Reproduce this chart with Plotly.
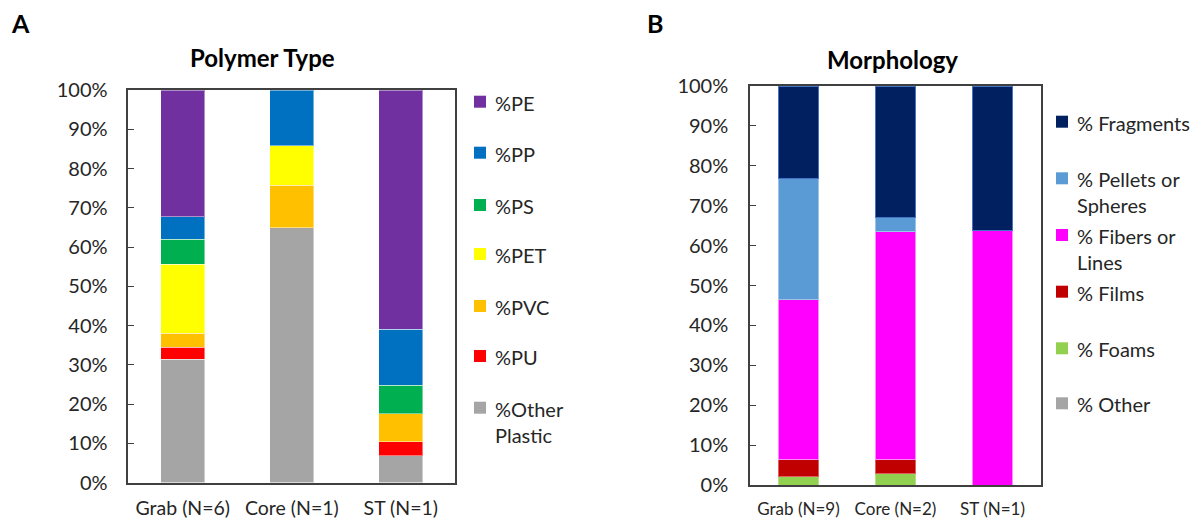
import plotly.graph_objects as go

W, H = 1198, 521

# ---------------- Data ----------------
categories_a = ["Grab (N=6)", "Core (N=1)", "ST (N=1)"]
polymer_names = ["%PE", "%PP", "%PS", "%PET", "%PVC", "%PU", "%Other<br>Plastic"]
pct_pe = [32.3, 0, 61.0]
pct_pp = [5.7, 14.2, 14.2]
pct_ps = [6.4, 0, 7.3]
pct_pet = [17.6, 10.1, 0]
pct_pvc = [3.5, 10.8, 7.1]
pct_pu = [3.1, 0, 3.6]
pct_other_plastic = [31.4, 64.9, 6.8]
polymer_colors = ["#7030A0", "#0070C0", "#00B050", "#FFFF00", "#FFC000", "#FF0000", "#A5A5A5"]

categories_b = ["Grab (N=9)", "Core (N=2)", "ST (N=1)"]
morph_names = ["% Fragments", "% Pellets or<br>Spheres", "% Fibers or<br>Lines", "% Films", "% Foams", "% Other"]
pct_fragments = [23.3, 32.9, 36.2]
pct_pellets = [30.3, 3.6, 0]
pct_fibers = [40.1, 57.1, 63.8]
pct_films = [4.2, 3.6, 0]
pct_foams = [2.1, 2.8, 0]
pct_other = [0, 0, 0]
morph_colors = ["#002060", "#5B9BD5", "#FF00FF", "#C00000", "#92D050", "#A5A5A5"]
morph_edges = ["#4472C4", "#9DC3E6", "#FF8CFF", "#E06060", "#B8E08A", "#C8C8C8"]

polymer_series = [pct_pe, pct_pp, pct_ps, pct_pet, pct_pvc, pct_pu, pct_other_plastic]
morph_series = [pct_fragments, pct_pellets, pct_fibers, pct_films, pct_foams, pct_other]

FONT = "Lato, 'Open Sans', sans-serif"
TXT = "#262626"

def px(x):
    return x / W

def py(y):
    return 1 - y / H

fig = go.Figure()

# Stack bottom -> top (reverse of legend order)
for name, vals, col in reversed(list(zip(polymer_names, polymer_series, polymer_colors))):
    fig.add_trace(go.Bar(
        x=categories_a, y=[v / 100 if v else None for v in vals],
        name=name.replace("<br>", " "), marker=dict(color=col, line=dict(color="rgba(255,255,255,0.45)", width=1)),
        xaxis="x", yaxis="y", showlegend=False))

for name, vals, col, edge in reversed(list(zip(morph_names, morph_series, morph_colors, morph_edges))):
    fig.add_trace(go.Bar(
        x=categories_b, y=[v / 100 if v else None for v in vals],
        name=name.replace("<br>", " "), marker=dict(color=col, line=dict(color=edge, width=1)),
        xaxis="x2", yaxis="y2", showlegend=False))

axis_common = dict(showline=True, mirror=True, linecolor="#404040", linewidth=1.5,
                   showgrid=False, zeroline=False, fixedrange=True, automargin=False)
yaxis_common = dict(axis_common, range=[0, 1], dtick=0.1, tickformat=".0%",
                    ticks="inside", ticklen=6, tickcolor="#404040", tickwidth=1,
                    tickfont=dict(family=FONT, size=20, color=TXT))

fig.update_layout(
    width=W, height=H, autosize=False,
    margin=dict(l=0, r=0, t=0, b=0, pad=0, autoexpand=False),
    paper_bgcolor="white", plot_bgcolor="white",
    barmode="stack", bargap=0.595,
    showlegend=False,
    xaxis=dict(axis_common, domain=[px(128.3), px(455.3)], ticks="",
               tickfont=dict(family=FONT, size=19.5, color=TXT), ticklabelstandoff=7),
    yaxis=dict(yaxis_common, domain=[py(482.5), py(90)], anchor="x", ticklabelstandoff=15),
    xaxis2=dict(axis_common, domain=[px(750), px(1041)], ticks="", anchor="y2",
                tickfont=dict(family=FONT, size=17, color=TXT), ticklabelstandoff=8),
    yaxis2=dict(yaxis_common, domain=[py(485), py(86)], anchor="x2", ticklabelstandoff=16),
)

ann = []
def label(text, x, y, size):
    ann.append(dict(text=text, x=px(x), y=py(y), xref="paper", yref="paper",
                    xanchor="center", yanchor="middle", showarrow=False,
                    font=dict(family=FONT, size=size, color="black")))

# Panel letters and titles
label("<b>A</b>", 20, 23, 25)
label("<b>B</b>", 655, 23, 25)
label("<b>Polymer Type</b>", 262, 57, 24)
label("<b>Morphology</b>", 892, 59, 24)

shapes = []
# Legend A
leg_a_y = [101.7, 152.7, 205, 254, 306, 356, 407.7]
for name, col, yy in zip(polymer_names, polymer_colors, leg_a_y):
    shapes.append(dict(type="rect", xref="paper", yref="paper",
                       x0=px(474), x1=px(486), y0=py(yy + 6), y1=py(yy - 6),
                       fillcolor=col, line=dict(width=0)))
    ann.append(dict(text=name, x=px(493), y=py(yy - 13), xref="paper", yref="paper",
                    xanchor="left", yanchor="top", align="left", showarrow=False,
                    font=dict(family=FONT, size=20, color=TXT)))
# Legend B
leg_b_y = [121.7, 178.3, 235, 291.7, 348.3, 403.3]
for name, col, yy in zip(morph_names, morph_colors, leg_b_y):
    shapes.append(dict(type="rect", xref="paper", yref="paper",
                       x0=px(1056), x1=px(1068), y0=py(yy + 6), y1=py(yy - 6),
                       fillcolor=col, line=dict(width=0)))
    ann.append(dict(text=name, x=px(1075), y=py(yy - 13), xref="paper", yref="paper",
                    xanchor="left", yanchor="top", align="left", showarrow=False,
                    font=dict(family=FONT, size=20, color=TXT)))

fig.update_layout(annotations=ann, shapes=shapes)
fig.write_html("out.html")
